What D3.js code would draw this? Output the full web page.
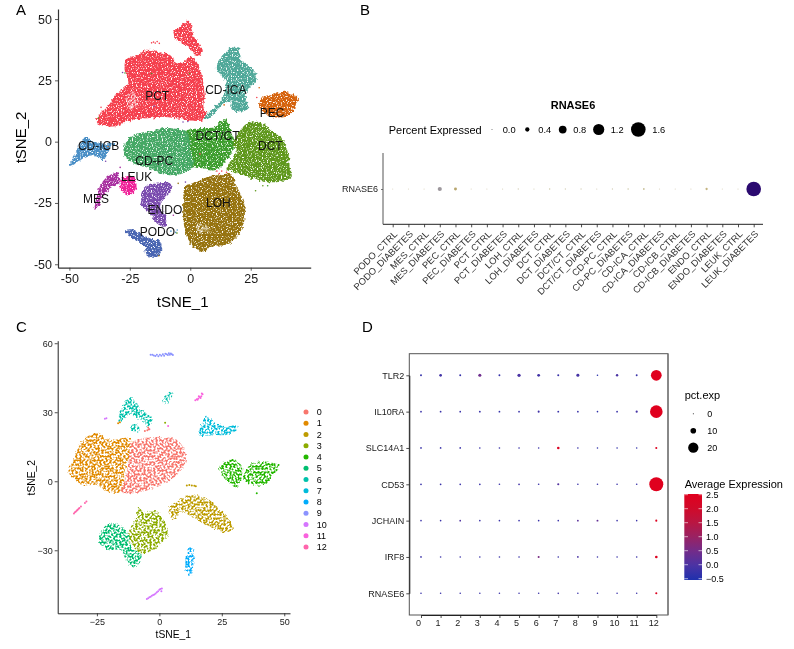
<!DOCTYPE html>
<html><head><meta charset="utf-8">
<style>
html,body{margin:0;padding:0;background:#fff}
svg{display:block;font-family:"Liberation Sans",Arial,sans-serif;filter:blur(.25px)}
</style>
<script src="https://cdn.jsdelivr.net/npm/d3@7"></script>
</head><body>
<svg id="c" width="794" height="649"></svg>
<script>
// ---------- Panel A: cell-cloud outlines (tSNE units) ----------
const cellTypes = ["PCT","CD-ICA","PEC","DCT","DCT/CT","CD-PC","CD-ICB","MES","LEUK","ENDO","LOH","PODO"];
const cellColors = ["#f5404e","#4fa899","#d5620c","#5f981c","#3d9e2e","#45a865","#4a8fc6","#a82f9f","#ef2198","#7a4bae","#96730f","#4a66b2"];
const labelX = [-13.7,14.7,33.8,33.1,11.3,-14.9,-37.9,-39,-22.2,-10.5,11.6,-13.6];
const labelY = [18.8,21.2,11.8,-1.8,2.3,-7.9,-1.6,-23.4,-14.3,-27.9,-25.1,-37];
const pctMain = [[-38.4,9.5],[-36.7,12.2],[-33.2,15.6],[-31.1,19],[-27.7,21.7],[-25.6,23.8],[-27,28.5],[-26.6,33.3],[-22.2,35.3],[-18,37.4],[-13.9,36.7],[-8.4,35.3],[-5.6,31.9],[-2.9,32.6],[0.6,34.6],[2.6,31.9],[4.7,28.5],[5.4,23.8],[6,18.3],[5.4,14.3],[6.8,10.9],[5.4,8.8],[-0.1,8.6],[-5.6,9.5],[-12.5,10.2],[-18,9.5],[-23.6,8.8],[-30.5,6.4],[-36,6.4],[-38.4,7.5]];
const pctTop = [[-6.8,45.5],[-4.3,46.9],[-1.5,49.3],[0.1,48.9],[0.6,45.5],[1.9,42.1],[4,38.7],[4.7,36],[2.6,34.9],[-0.1,38],[-3.6,40.1],[-6.3,42.1]];
const cdIca = [[10.6,30.6],[15,36.7],[17.8,38.7],[20.3,38],[20.5,34],[24,31.3],[27.4,27.2],[26.7,23.8],[24,21.7],[23,18.3],[24,13.6],[20.5,12.2],[17.1,13.6],[17.1,16.3],[15,16.3],[12.3,14.3],[9.5,10.9],[6.8,8.8],[6.5,10.9],[9.5,13.6],[13.6,18.3],[14.3,25.1],[10.9,29.2]];
const pec = [[28.5,15.6],[30.2,18.3],[33.6,19],[38.4,20.4],[43.3,19],[44.9,17.7],[43.3,14.3],[41.2,10.9],[35.7,9.9],[30.2,12.2],[28.5,14.3]];
const dct = [[17.1,-1.4],[19.8,3.4],[22.6,6.8],[24.7,8.2],[30.2,7.2],[34.3,4.1],[38.4,0.7],[40.5,-3.4],[41.2,-11.5],[41.9,-14.3],[37.1,-16.3],[30.2,-16.3],[23.3,-14.3],[17.8,-12.2],[15,-11.5],[17.8,-6.1],[19.2,-3.4]];
const dctCt = [[-2.2,4.1],[2.6,5.4],[10.9,6.1],[12.3,8.2],[15,8.6],[16.4,5.4],[17.8,0.7],[17.8,-3.4],[15,-7.5],[10.9,-11.5],[4,-10.9],[-0.1,-9.5],[-2.2,-3.4]];
const cdPc = [[-27,-0.7],[-24.3,2],[-19.4,3.4],[-12.5,5.4],[-7,5.4],[-1.5,4.1],[-0.1,-2],[1.2,-10.2],[-2.9,-12.9],[-9.8,-13.6],[-16.7,-10.9],[-23.6,-8.8],[-27,-6.1]];
const cdIcb = [[-50.2,-9.5],[-47.7,-5.4],[-46.3,-2],[-43.5,2],[-40.8,0.7],[-37.3,-0.7],[-31.1,-0.7],[-33.2,-2.7],[-36,-7.5],[-40.1,-5.4],[-45.6,-7.5],[-49,-9.8]];
const mes = [[-39.4,-27.2],[-38.7,-22.4],[-36.7,-17],[-33.2,-13.6],[-29.8,-12.9],[-29.1,-16.3],[-33.2,-19],[-36,-22.4],[-38,-26.5]];
const leuk = [[-28.8,-15.6],[-26.3,-13.6],[-23.6,-14.3],[-22.2,-18.3],[-24.3,-21.7],[-27,-21],[-28.8,-19]];
const endo = [[-20.8,-23.8],[-18.7,-18.3],[-13.9,-16.7],[-8.4,-17],[-7.7,-19.7],[-11.2,-23.8],[-12.5,-26.5],[-10.1,-30.6],[-10.5,-34.6],[-13.9,-33.3],[-16.7,-29.2],[-20.1,-26.5]];
const loh = [[-2.9,-23.8],[-2.2,-18.3],[2.6,-16.3],[7.4,-14.3],[12.3,-13.6],[16.4,-12.9],[19.2,-18.3],[21.2,-22.4],[22.6,-27.9],[21.2,-36],[16.4,-41.4],[9.5,-42.8],[5.4,-44.8],[-0.1,-41.4],[-2.2,-36],[-2.9,-29.2]];
const podo = [[-27,-36.3],[-22.9,-35.7],[-20.8,-37.4],[-16.7,-39.4],[-12.5,-40.8],[-11.9,-43.5],[-13.2,-46.9],[-17.4,-46.9],[-19.4,-42.1],[-22.9,-40.1],[-25.6,-38]];
const pctGaps = [[-26,19],[-23,20],[-21.5,16],[-23.5,13],[-26,15]];
const lohGaps = [[3,-33],[7,-34],[8,-37],[3,-37]];
const cellOutlines = [pctMain,cdIca,pec,dct,dctCt,cdPc,cdIcb,mes,leuk,endo,loh,podo,pctTop];
const outlineType = [0,1,2,3,4,5,6,7,8,9,10,11,0];
const strayA = [[-15.2,40.6,0],[-13.7,40.8,0],[-14.5,40.2,0],[-16,40.3,0],[-12.8,40.1,0],[-16,27.8,4],[-0.3,27.8,3],[-28,28.2,9],[-27,28,4],[-15,14.5,9],[-36.9,14,0],[-38,9.6,3],[-34,-2,2],[-35,-8,9],[-29,-10.5,7],[28.5,22,2],[27.5,18,0],[14,15,2],[-3,8,9],[-1,8.2,9],[-5,-17,10],[-2,-16.5,9],[-6,-37,6],[-5.4,-36,6],[-5.5,-37.3,3],[-8,-36.5,6],[-13,-46.5,10],[27,-20,3],[30,-18,3],[32,-18,4],[11,-12,0],[12,-13,0],[13,-12,0],[15,-12.5,0],[4,-5,0],[-7,-30,7]];

// ---------- Panel B ----------
const groupLabels = ["PODO_CTRL","PODO_DIABETES","MES_CTRL","MES_DIABETES","PEC_CTRL","PEC_DIABETES","PCT_CTRL","PCT_DIABETES","LOH_CTRL","LOH_DIABETES","DCT_CTRL","DCT_DIABETES","DCT/CT_CTRL","DCT/CT_DIABETES","CD-PC_CTRL","CD-PC_DIABETES","CD-ICA_CTRL","CD-ICA_DIABETES","CD-ICB_CTRL","CD-ICB_DIABETES","ENDO_CTRL","ENDO_DIABETES","LEUK_CTRL","LEUK_DIABETES"];
const rnasePct = [0.02,0.02,0.03,0.38,0.24,0.03,0.03,0.04,0.05,0.04,0.07,0.05,0.05,0.04,0.05,0.07,0.1,0.04,0.03,0.04,0.16,0.03,0.03,1.6];
const rnaseColor = ["#d8d0bc","#d8d0bc","#d8d0bc","#9d989d","#b8a66e","#d8d0bc","#d8d0bc","#d4cfb8","#d4cfb8","#d4cfb8","#ccc8a8","#d4cfb8","#d4cfb8","#d4cfb8","#d4cfb8","#ccc8a8","#c8c098","#d8d0bc","#d8d0bc","#d8d0bc","#c4b480","#d8d0bc","#d8d0bc","#2b0a70"];
const bGene = ["RNASE6"];
const bLegendVals = [0,0.4,0.8,1.2,1.6];

// ---------- Panel C: cluster outlines and small clusters as single dots ----------
const clusterColors = ["#F8766D","#E18A00","#BE9C00","#8CAB00","#24B700","#00BE70","#00C1AB","#00BBDA","#00ACFC","#8B93FF","#D575FE","#F962DD","#FF65AC"];
const clusterIds = ["0","1","2","3","4","5","6","7","8","9","10","11","12"];
const c0 = [[-15.1,-4.5],[-13.8,0.6],[-12.4,7.8],[-11.1,16.5],[-6.4,18.7],[1.6,19.1],[6.9,18],[10.3,12.9],[10.3,7.8],[5.6,1.3],[-2.4,-3],[-10.4,-5.2]];
const c1 = [[-36.4,4.2],[-33.8,10.7],[-32.4,15.8],[-25.1,21.2],[-19.8,18],[-11.7,18.7],[-11.5,12.9],[-13.8,4.9],[-15.1,-4.5],[-20.4,-4.5],[-25.1,-1.6],[-30.4,-1.6],[-35.1,2]];
const c2 = [[3.6,-11.7],[6.9,-8.8],[12.3,-6.2],[19,-7.4],[23,-11],[27,-15.4],[29.4,-20.4],[27,-22.2],[21.6,-20.4],[15,-16.8],[8.3,-13.2],[6.9,-16.8],[4.3,-15.4]];
const c3 = [[-9.1,-15.4],[-8.4,-11],[-6.4,-13.2],[-1.1,-13.2],[3.6,-21.9],[2.9,-24.8],[-2.4,-29.9],[-7.7,-31.3],[-10.4,-28.4],[-12.4,-22.6],[-10.4,-18.3]];
const c4a = [[24,6.4],[27,8.6],[29.6,9.6],[33,6.4],[31.6,-2.3],[29,-1.6],[25.6,2]];
const c4b = [[33.6,2],[37,7.8],[43,8.3],[48.1,6.8],[45,2],[41.7,-1.6],[37.7,-1.6],[33.6,0.6]];
const c5 = [[-24.8,-24.8],[-20.4,-18.3],[-17.8,-18.3],[-12.4,-22.6],[-11.1,-29.1],[-7.1,-32],[-9.1,-37.1],[-12.4,-35.7],[-15.8,-29.9],[-21.1,-29.9],[-24.4,-26.2]];
const c6a = [[-16.4,27.4],[-11.7,36.5],[-7.7,31.7],[-2.7,26.7],[-4.4,23.5],[-8,27],[-12,29],[-15.8,25.2]];
const c6b = [[1.6,36.1],[3.6,38.3],[5.6,38.6],[4.3,35.4],[2.5,33.2]];
const c6c = [[-11.7,24],[-8.5,24.5],[-8,22],[-11,22]];
const c7 = [[15.9,20.1],[19,28.8],[21.6,25.9],[27,23.8],[31,24.5],[31,22.3],[27,20.1],[21.6,20.1],[17.6,19.1]];
const c8 = [[10.5,-33],[12,-29.1],[13.9,-29.9],[13.9,-33.5],[12.5,-41.2],[10.7,-39.3]];
const clusterOutlines = [c1,c0,c2,c3,c4a,c4b,c5,c6a,c6b,c6c,c7,c8];
const outlineCluster = [1,0,2,3,4,4,5,6,6,6,7,8];
const dotsX = [-3.5,-2.8,-2.2,-1.6,-1,-0.4,0.2,0.8,1.4,1.9,2.4,2.9,3.4,3.8,4.2,4.6,5,5.4, -5,-4.5,-4,-3.5,-3,-2.5,-2,-1.5,-1,-0.5,0,0.4,0.8,1, 14.4,15,15.6,16.2,16.8,17.3,15.3,16.5,17,15.8, -34.2,-33.8,-33.4,-33,-32.7,-32.3,-32,-31.4,-29.8,-29.2, -21.8,-21.2, 2.3,3.5, -4.5,-4, 11,12,13,14,14.6, -5.8,-4.8,-4.2, 39,-16.5,-15.8];
const dotsY = [55,55,54.7,54.4,55,54.3,55,54.6,55.2,54.6,55.4,55.2,54.9,55.6,55,55.5,55.2,54.9, -51.2,-50.9,-50.4,-50.2,-49.8,-49.4,-49.2,-48.8,-48.2,-47.8,-47.2,-46.8,-47.8,-46.6, 35.2,35.6,36,36.6,37,37.8,35.4,36.2,38.2,36.9, -14,-13.5,-13.2,-12.7,-12.4,-12.0,-11.6,-11,-9.4,-8.8, 27.2,27.4, 25.4,24, 23.4,22.6, -1.8,-1.6,-1.8,-2,-2.2, 21.8,22.2,22.6, -5.2,25.2,25.6];
const dotsK = [9,9,9,9,9,9,9,9,9,9,9,9,9,9,9,9,9,9, 10,10,10,10,10,10,10,10,10,10,10,10,10,10, 11,11,11,11,11,11,11,11,11,11, 12,12,12,12,12,12,12,12,12,12, 10,10, 3,11, 0,12, 2,2,2,2,2, 0,0,0, 4,1,1];

// ---------- Panel D ----------
const genes = ["TLR2","IL10RA","SLC14A1","CD53","JCHAIN","IRF8","RNASE6"];
const clusters = [0,1,2,3,4,5,6,7,8,9,10,11,12];
const pctTLR2  = [2,3.6,2,4.4,2,4.8,3.9,2.2,4.3,1.3,3,2,21];
const pctIL10  = [1.6,1.7,1.6,1.8,1.6,1.6,2.2,1.8,1.6,1.4,1.6,2.6,25];
const pctSLC   = [1.6,1.5,1.5,1.4,1.4,1.4,1.3,3.4,1.4,1.3,1.3,1.2,2.3];
const pctCD53  = [1.6,1.6,1.5,1.5,1.4,1.6,1.4,2.4,1.4,1.4,1.4,1.4,28];
const pctJCH   = [1.3,1.4,1.6,1.4,1.4,1.4,1.4,1.3,1.7,2,1.3,1.2,2.4];
const pctIRF8  = [1.5,1.4,1.4,1.3,1.3,1.4,2.2,1.4,1.7,1.3,1.3,1.3,3.6];
const pctRNA   = [1.3,1.2,1.2,1.2,1.2,1.2,1.2,1.4,1.2,1.2,1.2,1.2,2.4];
const avgTLR2  = [-0.25,-0.1,-0.25,0.45,-0.25,0,-0.1,-0.2,-0.05,-0.4,0,-0.2,2.5];
const avgIL10  = [-0.2,-0.2,-0.2,-0.2,-0.25,-0.2,-0.1,-0.2,-0.2,-0.3,-0.2,-0.05,2.5];
const avgSLC   = [-0.2,-0.2,-0.2,-0.2,-0.2,-0.2,-0.2,2.3,-0.2,-0.3,-0.3,-0.3,2.4];
const avgCD53  = [-0.2,-0.2,-0.2,-0.2,-0.2,-0.1,-0.2,0.1,-0.2,-0.2,-0.2,-0.2,2.5];
const avgJCH   = [-0.2,-0.2,0.05,-0.2,-0.2,-0.2,-0.2,-0.2,0.2,0.3,-0.2,-0.2,2.4];
const avgIRF8  = [-0.2,-0.2,-0.2,-0.2,-0.2,-0.2,0.6,-0.2,0,-0.2,-0.2,-0.2,2.4];
const avgRNA   = [-0.2,-0.2,-0.2,-0.2,-0.2,-0.2,-0.2,-0.1,-0.2,-0.2,-0.2,-0.2,2.4];
const pctRows = [pctTLR2,pctIL10,pctSLC,pctCD53,pctJCH,pctIRF8,pctRNA];
const avgRows = [avgTLR2,avgIL10,avgSLC,avgCD53,avgJCH,avgIRF8,avgRNA];
const pctLegend = [0,10,20];
const avgTicks = [-0.5,0,0.5,1,1.5,2,2.5];

// ---------- Drawing ----------
const svg = d3.select("#c");
const defs = svg.append("defs");
function grain(id, edge, freq, k, c){
  const f = defs.append("filter").attr("id",id).attr("x","-10%").attr("y","-10%").attr("width","120%").attr("height","120%")
    .attr("color-interpolation-filters","sRGB");
  f.append("feTurbulence").attr("type","fractalNoise").attr("baseFrequency",0.28).attr("numOctaves",2).attr("seed",4).attr("result","wob");
  f.append("feDisplacementMap").attr("in","SourceGraphic").attr("in2","wob").attr("scale",edge).attr("xChannelSelector","R").attr("yChannelSelector","G").attr("result","rough");
  f.append("feTurbulence").attr("type","fractalNoise").attr("baseFrequency",freq).attr("numOctaves",1).attr("seed",9).attr("result","n");
  f.append("feColorMatrix").attr("in","n").attr("type","matrix").attr("values",`0 0 0 0 0 0 0 0 0 0 0 0 0 0 0 ${k} 0 0 0 ${c}`).attr("result","mask");
  f.append("feComposite").attr("in","rough").attr("in2","mask").attr("operator","in");
}
grain("denseGrain",5,0.8,6,-1.7);
grain("sparseGrain",4,0.5,8,-3.5);

const txt = (x,y,s,fs,opt={}) => svg.append("text").attr("x",x).attr("y",y).text(s).attr("font-size",fs)
  .attr("fill",opt.fill||"#000").attr("text-anchor",opt.anchor||"start").attr("dominant-baseline","central")
  .attr("font-weight",opt.weight||null).attr("transform",opt.rot?`rotate(${opt.rot} ${x} ${y})`:null);
txt(16,9,"A",15); txt(360,9,"B",15); txt(16,326,"C",15); txt(362,326,"D",15);

function styleAxis(g,col,w,tickCol){
  g.select(".domain").attr("stroke",col).attr("stroke-width",w);
  g.selectAll(".tick line").attr("stroke",tickCol||col).attr("stroke-width",.8);
  g.selectAll(".tick text").attr("fill","#1a1a1a").attr("font-family",null);
}
const fmtMinus = d => String(d);

// A
const xA = d3.scaleLinear().domain([-54.7,49.8]).range([58,310.7]);
const yA = d3.scaleLinear().domain([-51.4,54.1]).range([267.7,9]);
const lineA = d3.line().x(d=>xA(d[0])).y(d=>yA(d[1])).curve(d3.curveCatmullRomClosed.alpha(.5));
const gA = svg.append("g");
cellOutlines.forEach((o,i)=>gA.append("path").attr("d",lineA(o)).attr("fill",cellColors[outlineType[i]]).attr("filter","url(#denseGrain)"));
[pctGaps,lohGaps].forEach(o=>gA.append("path").attr("d",lineA(o)).attr("fill","#fff").attr("opacity",.6).attr("filter","url(#sparseGrain)"));
gA.selectAll("circle").data(strayA).join("circle").attr("cx",d=>xA(d[0])).attr("cy",d=>yA(d[1])).attr("r",.8).attr("fill",d=>cellColors[d[2]]);
const axA = svg.append("g").attr("transform","translate(0,267.7)").call(d3.axisBottom(xA).tickValues([-50,-25,0,25]).tickFormat(fmtMinus).tickSize(3).tickSizeOuter(0).tickPadding(3));
const ayA = svg.append("g").attr("transform","translate(58,0)").call(d3.axisLeft(yA).tickValues([-50,-25,0,25,50]).tickFormat(fmtMinus).tickSize(3).tickSizeOuter(0).tickPadding(3));
[axA,ayA].forEach(g=>{styleAxis(g,"#333",1.2);g.selectAll(".tick text").attr("font-size",12.5);});
cellTypes.forEach((t,i)=>svg.append("text").attr("x",xA(labelX[i])).attr("y",yA(labelY[i])).attr("text-anchor","middle").attr("dominant-baseline","central").attr("font-size",12).attr("fill","#111").text(t));
txt(182.7,301.7,"tSNE_1",15,{anchor:"middle"});
txt(20.7,137.5,"tSNE_2",15,{anchor:"middle",rot:-90});

// B
const xB = d3.scalePoint().domain(groupLabels).range([392.7,753.7]);
const yB = d3.scalePoint().domain(bGene).range([189,189]);
const rB = d3.scaleLinear().domain([0,1.6]).range([.45,7.3]);
const axB = svg.append("g").attr("transform","translate(0,224.3)").call(d3.axisBottom(xB).tickSize(3).tickSizeOuter(0).tickPadding(2));
axB.select(".domain").attr("d","M383,0H763");
const ayB = svg.append("g").attr("transform","translate(383,0)").call(d3.axisLeft(yB).tickSize(2).tickSizeOuter(0).tickPadding(3));
ayB.select(".domain").attr("d","M0,153V224.3");
styleAxis(axB,"#222",1); styleAxis(ayB,"#555",1);
ayB.selectAll(".tick text").attr("font-size",9);
axB.selectAll(".tick text").attr("font-size",9.4).attr("text-anchor","end").attr("fill","#333").attr("transform","rotate(-45) translate(-4,1)").attr("dy",".5em");
svg.append("g").selectAll("circle").data(groupLabels).join("circle").attr("cx",d=>xB(d)).attr("cy",yB("RNASE6")).attr("r",(d,i)=>rB(rnasePct[i])).attr("fill",(d,i)=>rnaseColor[i]);
txt(573,104.5,"RNASE6",11,{anchor:"middle",weight:"bold"});
txt(388.7,129.5,"Percent Expressed",11);
const bLegX = d3.scaleOrdinal().domain(bLegendVals).range([492,527.3,562.7,598.7,638.3]);
const bLegT = d3.scaleOrdinal().domain(bLegendVals).range([502.7,538.3,573.3,610.7,652.3]);
bLegendVals.forEach(v=>{
  svg.append("circle").attr("cx",bLegX(v)).attr("cy",129.5).attr("r",rB(v)).attr("fill","#000");
  txt(bLegT(v),129.5,v.toFixed(1),9.3);
});

// C
const xC = d3.scaleLinear().domain([-40.7,52.3]).range([57.7,290]);
const yC = d3.scaleLinear().domain([-57.4,61.1]).range([613.3,340.7]);
const lineC = d3.line().x(d=>xC(d[0])).y(d=>yC(d[1])).curve(d3.curveCatmullRomClosed.alpha(.5));
const gC = svg.append("g");
clusterOutlines.forEach((o,i)=>gC.append("path").attr("d",lineC(o)).attr("fill",clusterColors[outlineCluster[i]]).attr("filter","url(#sparseGrain)"));
gC.selectAll("circle").data(dotsX).join("circle").attr("cx",d=>xC(d)).attr("cy",(d,i)=>yC(dotsY[i])).attr("r",1).attr("fill",(d,i)=>clusterColors[dotsK[i]]);
const axC = svg.append("g").attr("transform","translate(0,613.3)").call(d3.axisBottom(xC).tickValues([-25,0,25,50]).tickFormat(d3.format("")).tickSize(3).tickSizeOuter(0).tickPadding(2));
const ayC = svg.append("g").attr("transform","translate(57.7,0)").call(d3.axisLeft(yC).tickValues([-30,0,30,60]).tickFormat(d3.format("")).tickSize(3).tickSizeOuter(0).tickPadding(2));
[axC,ayC].forEach(g=>{styleAxis(g,"#222",1);g.selectAll(".tick text").attr("font-size",9);});
txt(173.3,634,"tSNE_1",10.3,{anchor:"middle"});
txt(31.7,477.7,"tSNE_2",10.3,{anchor:"middle",rot:-90});
const yLegC = d3.scalePoint().domain(clusterIds).range([412,547]);
clusterIds.forEach((k,i)=>{
  svg.append("circle").attr("cx",306).attr("cy",yLegC(k)).attr("r",2.5).attr("fill",clusterColors[i]);
  txt(316.7,yLegC(k),k,9);
});

// D
const xD = d3.scalePoint().domain(clusters).range([421,656.3]);
const yD = d3.scalePoint().domain(genes).range([375.3,593.3]);
const rD = d3.scaleLinear().domain([0,28]).range([.5,7]);
const colD = d3.scaleLinear().domain([-0.5,0,0.5,1,1.5,2,2.5]).range(["#1f30ad","#4a33a4","#722c8a","#992263","#b91642","#d00a2a","#e0001e"]);
svg.append("rect").attr("x",409.3).attr("y",353.7).attr("width",258.7).attr("height",261.3).attr("fill","none").attr("stroke","#555").attr("stroke-width",1);
svg.append("line").attr("x1",668).attr("x2",668).attr("y1",353.7).attr("y2",615).attr("stroke","#777").attr("stroke-width",1.3);
const axD = svg.append("g").attr("transform","translate(0,615)").call(d3.axisBottom(xD).tickSize(3).tickSizeOuter(0).tickPadding(2));
const ayD = svg.append("g").attr("transform","translate(409.3,0)").call(d3.axisLeft(yD).tickSize(3).tickSizeOuter(0).tickPadding(2));
[axD,ayD].forEach(g=>{styleAxis(g,"#222",1);g.selectAll(".tick text").attr("font-size",9);});
axD.selectAll(".tick text").attr("dx",-3);
const gD = svg.append("g");
genes.forEach((g,r)=>clusters.forEach((c,j)=>{
  gD.append("circle").attr("cx",xD(c)).attr("cy",yD(g)).attr("r",rD(pctRows[r][j])).attr("fill",colD(avgRows[r][j]));
}));
txt(684.7,394.7,"pct.exp",11);
const yLegD = d3.scalePoint().domain(pctLegend).range([413.7,447.7]);
pctLegend.forEach(v=>{
  svg.append("circle").attr("cx",693.3).attr("cy",yLegD(v)).attr("r",rD(v)).attr("fill","#000");
  txt(707.3,yLegD(v),String(v),9);
});
txt(684.7,484,"Average Expression",11);
const yBar = d3.scaleLinear().domain([-0.5,2.5]).range([578.7,494.7]);
const grad = defs.append("linearGradient").attr("id","avgGrad").attr("x1",0).attr("x2",0).attr("y1",1).attr("y2",0);
avgTicks.forEach(v=>grad.append("stop").attr("offset",(v+0.5)/3).attr("stop-color",colD(v)));
svg.append("rect").attr("x",684.3).attr("y",494).attr("width",17.7).attr("height",86).attr("fill","url(#avgGrad)");
avgTicks.forEach(v=>{
  svg.append("line").attr("x1",684.3).attr("x2",688).attr("y1",yBar(v)).attr("y2",yBar(v)).attr("stroke","#fff").attr("stroke-width",.6);
  svg.append("line").attr("x1",698.5).attr("x2",702).attr("y1",yBar(v)).attr("y2",yBar(v)).attr("stroke","#fff").attr("stroke-width",.6);
  txt(706,yBar(v),(v<0?"\u2212":"")+Math.abs(v).toFixed(1),9);
});
</script>
</body></html>
